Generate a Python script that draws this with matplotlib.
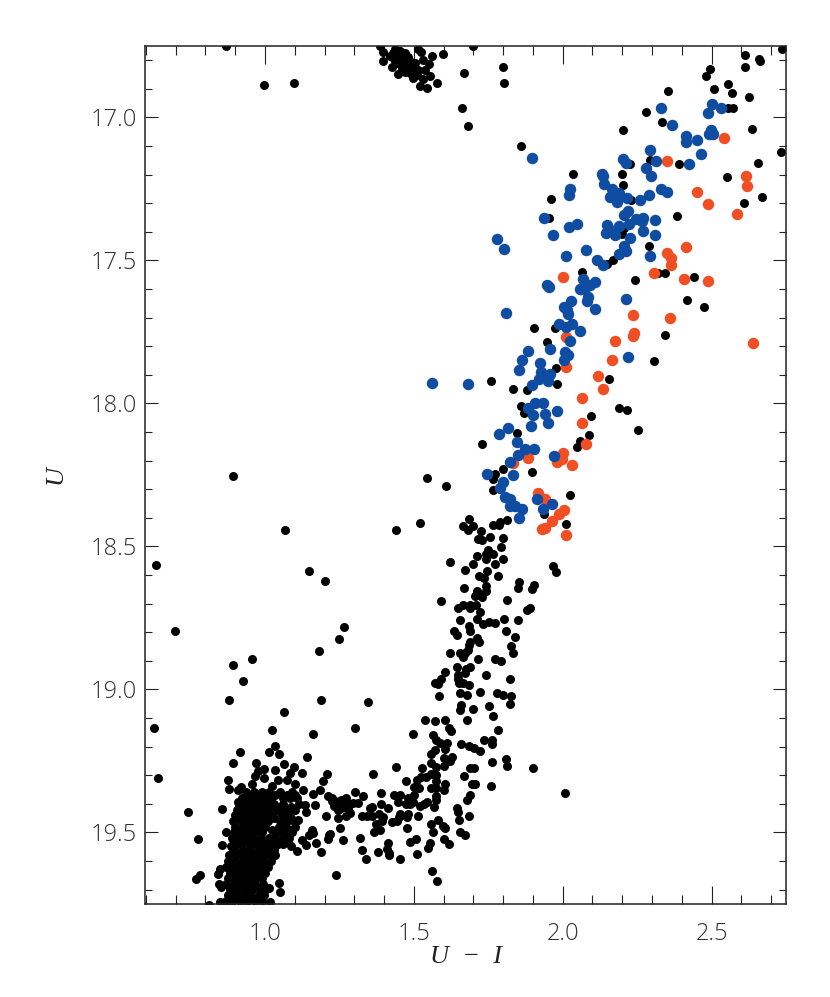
import matplotlib
matplotlib.use('Agg')
import matplotlib.pyplot as plt
from matplotlib.ticker import MultipleLocator, FormatStrFormatter

plt.rcParams['font.family'] = ['Open Sans', 'DejaVu Sans']

# (U-I, U)
blue_stars = [
    (2.330,16.966),(2.367,17.025),(2.500,16.954),(2.532,16.967),(2.487,16.986),(2.497,17.044),
    (2.492,17.059),(2.504,17.057),(2.414,17.063),(2.415,17.086),(2.450,17.077),(2.463,17.126),
    (2.293,17.113),(2.313,17.152),(2.202,17.144),(2.211,17.158),(2.424,17.164),(2.279,17.176),
    (2.295,17.205),(1.898,17.141),(2.132,17.197),(2.134,17.205),(2.140,17.234),(2.167,17.249),
    (2.024,17.251),(2.020,17.271),(2.330,17.251),(2.349,17.261),(2.289,17.272),(2.158,17.277),
    (2.190,17.265),(2.181,17.296),(2.215,17.282),(2.258,17.288),(2.218,17.327),(2.206,17.341),
    (1.938,17.351),(2.245,17.356),(2.271,17.351),(2.267,17.362),(2.309,17.360),(2.223,17.372),
    (2.150,17.376),(2.190,17.380),(2.048,17.372),(2.022,17.384),(1.969,17.411),(2.144,17.405),
    (2.164,17.397),(2.177,17.410),(2.271,17.397),(2.309,17.410),(2.226,17.423),(1.780,17.426),
    (1.802,17.459),(2.207,17.450),(2.211,17.466),(2.189,17.478),(2.079,17.462),(2.011,17.486),
    (2.294,17.486),(2.115,17.499),(2.136,17.515),(2.068,17.566),(2.108,17.575),(2.092,17.587),
    (2.076,17.595),(2.060,17.599),(1.946,17.587),(1.954,17.592),
    (1.811,17.685),(2.211,17.636),(2.029,17.642),(2.006,17.664),(2.014,17.673),(2.018,17.688),
    (2.110,17.670),(2.081,17.642),(2.085,17.627),(2.058,17.601),(1.988,17.723),(2.030,17.721),
    (2.011,17.733),(2.058,17.745),(2.026,17.782),(1.958,17.808),(1.883,17.818),(2.007,17.819),
    (2.019,17.831),(1.863,17.848),(2.005,17.849),(2.220,17.839),(1.923,17.857),(1.852,17.882),
    (1.926,17.889),(1.958,17.898),(1.919,17.913),(1.941,17.904),(1.949,17.921),(1.682,17.931),
    (1.561,17.927),(1.898,17.935),(1.907,18.000),(1.935,18.000),(1.885,18.014),(1.980,18.026),
    (1.899,18.040),(1.942,18.035),(1.952,18.068),(1.893,18.079),(1.816,18.086),(1.786,18.108),
    (1.848,18.135),(1.872,18.160),(1.903,18.159),(1.849,18.180),(1.971,18.185),(1.824,18.205),
    (1.832,18.250),(1.747,18.247),(1.799,18.275),(1.788,18.294),(1.807,18.326),(1.823,18.335),
    (1.823,18.359),(1.841,18.359),(1.862,18.370),(1.853,18.402),(1.915,18.335),(1.963,18.350),
    (1.935,18.368),
]

red_stars = [
    (2.543,17.070),(2.350,17.152),(2.614,17.206),(2.618,17.240),(2.451,17.260),(2.488,17.303),
    (2.585,17.339),(2.265,17.362),(2.415,17.452),(2.350,17.473),(2.363,17.490),(2.365,17.514),
    (2.305,17.544),(2.001,17.556),(2.407,17.566),(2.488,17.570),
    (2.236,17.690),(2.361,17.702),(2.240,17.752),(2.237,17.764),(2.174,17.783),(2.012,17.769),
    (2.638,17.789),(2.166,17.847),(2.010,17.871),(2.117,17.903),(2.137,17.948),(2.066,17.980),
    (2.065,18.067),(2.077,18.141),(2.000,18.174),(1.998,18.195),(1.982,18.206),(1.883,18.192),
    (2.030,18.216),(1.833,18.209),(1.918,18.312),(1.942,18.335),(2.006,18.373),(1.989,18.387),
    (1.963,18.410),(1.939,18.435),(1.931,18.439),(2.012,18.461),
]

# upper giant branch
black_upper = [
    (2.738,16.760),(2.612,16.781),(2.658,16.797),(2.664,16.804),(2.611,16.825),(2.494,16.832),
    (2.482,16.855),(2.555,16.883),(2.569,16.915),(2.509,16.902),(2.352,16.906),(2.625,16.929),
    (1.799,16.825),(1.804,16.879),(2.279,16.981),(2.556,16.968),(2.571,16.968),(2.332,17.015),
    (2.203,17.044),(2.636,17.039),(1.860,17.101),(2.733,17.120),(2.294,17.148),(2.226,17.164),
    (2.389,17.162),(2.655,17.159),(2.033,17.197),(2.198,17.197),(2.551,17.208),(2.204,17.236),
    (2.669,17.278),(1.959,17.285),(2.610,17.299),(2.229,17.290),(2.385,17.345),(1.954,17.351),
    (2.198,17.406),(2.207,17.386),(2.289,17.451),(2.170,17.499),(2.148,17.511),(2.066,17.540),
    (2.321,17.544),(2.344,17.544),(2.441,17.559),(2.243,17.568),
    (2.418,17.637),(2.473,17.663),(1.903,17.736),(1.973,17.736),(2.345,17.761),(1.946,17.786),
    (2.306,17.853),(1.979,17.876),(1.758,17.921),(1.832,17.949),(1.881,17.954),(1.980,17.933),
    (2.155,17.914),(2.188,18.014),(2.217,18.023),(1.860,18.007),(1.870,18.032),(2.095,18.044),
    (2.253,18.094),(1.847,18.102),(2.087,18.110),(1.728,18.142),(2.059,18.131),(2.049,18.152),
    (1.896,18.241),(1.799,18.228),(1.774,18.248),(1.767,18.265),(1.608,18.290),(1.765,18.301),
    (2.025,18.319),(1.937,18.385),(2.010,18.423),(1.813,18.409),(1.791,18.413),(1.787,18.425),
    (1.767,18.425),(1.684,18.403),(1.664,18.428),(1.700,18.430),(1.683,18.442),(1.726,18.445),
    (1.717,18.475),(1.730,18.477),(1.755,18.468),(1.799,18.469),(1.793,18.503),(1.750,18.512),
]

# lower giant branch
black_middle = [
    (1.521,18.418),(1.765,18.526),(1.741,18.526),(1.742,18.542),(1.712,18.533),(1.800,18.543),
    (1.772,18.560),(1.699,18.560),(1.622,18.554),(1.671,18.583),(1.745,18.585),(1.718,18.604),
    (1.736,18.610),(1.784,18.602),(1.967,18.567),(1.976,18.589),(1.854,18.623),(1.849,18.645),
    (1.904,18.634),(1.898,18.648),(1.744,18.637),(1.670,18.645),(1.742,18.655),(1.712,18.656),
    (1.705,18.674),(1.730,18.676),(1.722,18.668),(1.590,18.689),(1.812,18.687),(1.649,18.716),
    (1.666,18.704),(1.688,18.705),(1.708,18.703),(1.690,18.716),(1.890,18.714),(1.879,18.721),
    (1.722,18.730),(1.713,18.752),(1.656,18.756),(1.804,18.753),(1.851,18.758),(1.753,18.763),
    (1.773,18.766),(1.733,18.772),(1.684,18.779),(1.687,18.796),(1.634,18.796),(1.644,18.809),
    (1.811,18.796),(1.839,18.815),(1.712,18.819),(1.720,18.834),(1.690,18.834),(1.686,18.843),
    (1.826,18.849),(1.832,18.871),(1.683,18.863),(1.671,18.874),(1.656,18.871),(1.620,18.873),
    (1.664,18.886),(1.715,18.893),(1.771,18.892),(1.792,18.902),(1.644,18.921),(1.688,18.921),
    (1.674,18.928),(1.671,18.942),(1.603,18.940),(1.648,18.948),(1.744,18.950),(1.649,18.963),
    (1.592,18.964),(1.823,18.964),(1.571,18.979),(1.582,18.982),(1.650,18.977),(1.666,18.979),
    (1.686,18.984),(1.586,19.021),(1.656,19.011),(1.677,19.019),(1.722,19.010),(1.779,19.013),
    (1.800,19.018),(1.828,19.024),
]

# subgiant branch
black_subgiant = [
    (1.345,19.043),(1.301,19.136),(1.658,19.055),(1.654,19.072),(1.700,19.068),(1.752,19.056),
    (1.824,19.052),(1.767,19.092),(1.536,19.107),(1.572,19.111),(1.603,19.107),(1.677,19.107),
    (1.619,19.134),(1.626,19.145),(1.782,19.142),(1.498,19.156),(1.566,19.159),(1.576,19.175),
    (1.588,19.186),(1.610,19.186),(1.658,19.189),(1.685,19.198),(1.703,19.203),(1.721,19.214),
    (1.734,19.178),(1.762,19.178),(1.763,19.190),(1.604,19.207),(1.572,19.213),(1.557,19.224),
    (1.601,19.239),(1.627,19.237),(1.623,19.251),(1.557,19.256),(1.761,19.254),(1.809,19.244),
    (1.812,19.266),(1.899,19.276),(1.601,19.267),(1.576,19.272),(1.529,19.275),(1.440,19.272),
    (1.687,19.273),(1.702,19.273),(1.364,19.294),(1.667,19.304),(1.576,19.298),(1.556,19.297),
    (1.542,19.305),(1.523,19.305),(1.511,19.317),(1.574,19.321),(1.473,19.319),(1.696,19.330),
    (1.707,19.330),(1.758,19.336),(1.604,19.331),(1.601,19.350),(1.500,19.340),(1.517,19.344),
    (1.557,19.343),(1.576,19.345),(1.302,19.358),(1.330,19.371),(1.390,19.361),(1.434,19.368),
    (1.453,19.369),(1.500,19.369),(1.481,19.379),(1.446,19.394),(1.574,19.373),(1.688,19.368),
    (1.679,19.385),(1.576,19.388),(1.543,19.393),(1.534,19.402),(1.520,19.408),(1.498,19.393),
    (1.487,19.399),(1.473,19.399),(1.389,19.401),(1.361,19.410),(1.352,19.416),(1.412,19.416),
    (1.568,19.410),(1.644,19.416),(1.649,19.428),(1.685,19.442),(1.651,19.455),(1.513,19.442),
    (1.481,19.437),(1.455,19.437),(1.450,19.446),(1.476,19.445),(1.397,19.445),(1.384,19.437),
    (1.361,19.441),(1.343,19.442),(1.325,19.444),(1.392,19.460),(1.373,19.469),(1.427,19.462),
    (1.442,19.460),(1.581,19.457),(1.558,19.472),(1.599,19.478),(1.604,19.484),(1.477,19.484),
    (1.386,19.492),(1.365,19.499),(1.563,19.500),(1.655,19.500),(1.672,19.510),(1.319,19.519),
    (1.601,19.524),(1.619,19.540),(1.506,19.524),(1.488,19.534),(1.414,19.536),(1.555,19.537),
    (1.546,19.555),(1.411,19.559),(1.415,19.571),(1.416,19.580),(1.380,19.569),(1.325,19.562),
    (1.338,19.591),(1.455,19.593),(1.509,19.575),(1.562,19.635),(1.577,19.671),(1.237,19.647),
    (1.261,19.527),(1.252,19.486),(1.246,19.449),(1.272,19.444),(1.285,19.431),(1.218,19.505),
    (1.224,19.379),(1.235,19.390),(1.231,19.408),(1.246,19.420),(1.257,19.385),(1.272,19.381),
    (1.268,19.402),(1.285,19.402),(1.296,19.396),(1.313,19.396),(1.280,19.417),(1.257,19.414),
    (2.008,19.363),
]

# edge of the turnoff clump
black_clump = [
    (0.878,19.035),(0.626,19.133),(0.642,19.310),(0.740,19.427),(0.776,19.521),(0.782,19.648),
    (0.767,19.664),(1.063,19.080),(1.025,19.140),(1.161,19.154),(1.188,19.038),(1.035,19.199),
    (1.012,19.217),(1.047,19.226),(0.917,19.217),(0.892,19.256),(0.970,19.256),(1.065,19.259),
    (1.142,19.235),(0.876,19.316),(0.878,19.347),(0.910,19.350),(0.918,19.340),(0.908,19.394),
    (0.857,19.417),(0.870,19.500),(0.854,19.544),(0.885,19.547),(0.849,19.627),(0.841,19.645),
    (0.845,19.679),(0.852,19.691),(1.048,19.676),(1.050,19.707),(1.014,19.693),(1.017,19.742),
    (0.812,19.752),(0.849,19.742),(1.205,19.441),(1.187,19.568),(1.109,19.564),(1.214,19.507),
    (1.210,19.524),(1.170,19.536),(1.137,19.542),(1.125,19.527),(1.087,19.548),(1.157,19.490),
    (1.162,19.503),(1.148,19.509),(1.112,19.457),(1.137,19.428),(1.134,19.404),(1.167,19.404),
    (1.185,19.350),(1.207,19.297),(1.196,19.321),(1.123,19.291),(1.098,19.272),(1.084,19.291),
    (0.997,19.277),(1.034,19.283),(0.977,19.286),(0.997,19.309),(0.966,19.303),(0.955,19.332),
    (1.045,19.315),(1.073,19.315),(1.101,19.330),(1.022,19.338),(1.129,19.350),(1.162,19.367),
    (1.213,19.373),(1.235,19.402),(1.224,19.390),
]

# top clump and the scattered ones
black_top = [
    (1.386,16.750),(1.395,16.771),(1.397,16.802),(1.425,16.824),(1.448,16.849),(1.431,16.774),
    (1.448,16.785),(1.465,16.797),(1.476,16.814),(1.493,16.826),(1.498,16.861),(1.487,16.844),
    (1.459,16.832),(1.442,16.809),(1.504,16.809),(1.453,16.768),(1.437,16.760),(1.524,16.771),
    (1.515,16.760),(1.560,16.785),(1.532,16.799),(1.551,16.814),(1.537,16.834),(1.554,16.855),
    (1.532,16.865),(1.521,16.890),(1.545,16.897),(1.579,16.880),(1.599,16.779),(1.668,16.845),
    (1.661,16.967),(1.682,17.030),(1.700,16.750),(1.470,16.840),(1.482,16.790),(1.515,16.835),
    (1.420,16.785),(1.435,16.795),(1.455,16.812),(1.470,16.775),(1.490,16.805),(1.510,16.850),
    (0.869,16.750),(0.997,16.888),(1.097,16.878),
]

black_scatter = [
    (0.634,18.563),(0.698,18.797),(0.893,18.255),(1.067,18.444),(1.148,18.584),(1.202,18.622),
    (1.265,18.783),(1.249,18.825),(1.181,18.864),(0.893,18.913),(0.956,18.895),(0.926,18.969),
    (1.440,18.444),(1.544,18.259),
]

# inside the clump the stars overlap, so these are only rough rows
clump_rows_u = [19.36, 19.38, 19.40, 19.42, 19.44, 19.46, 19.48, 19.50, 19.52, 19.54,
                19.56, 19.58, 19.60, 19.62, 19.64, 19.66, 19.68, 19.70, 19.72, 19.74,
                19.37, 19.41, 19.45, 19.49, 19.53, 19.57, 19.61, 19.65, 19.69, 19.73]
clump_rows_color = [
    [.935, .962, .991, 1.014, 1.052, 1.09],
    [.924, .948, .972, .999, 1.02, 1.06, 1.083, 1.108],
    [.916, .941, .96, .985, 1.007, 1.03, 1.062, 1.115],
    [.905, .93, .952, .978, 1.003, 1.041, 1.07, 1.1],
    [.899, .921, .944, .97, .995, 1.02, 1.056, 1.08],
    [.893, .918, .94, .963, .989, 1.011, 1.052, 1.074, 1.096],
    [.9, .925, .948, .975, 1.0, 1.048, 1.07, 1.1],
    [.895, .92, .943, .966, .99, 1.04, 1.065, 1.09],
    [.888, .912, .936, .96, .985, 1.012, 1.035, 1.06, 1.08],
    [.895, .92, .945, .97, .995, 1.02, 1.045, 1.062],
    [.9, .925, .95, .978, 1.005, 1.03],
    [.878, .905, .93, .955, .98, 1.0, 1.027, 1.034],
    [.875, .9, .925, .945, .972, .995, 1.02],
    [.868, .892, .918, .94, .965, .985, 1.01],
    [.882, .905, .93, .955, .975, 1.0],
    [.875, .9, .925, .95, .97, .99],
    [.87, .895, .915, .94, .965, .992],
    [.882, .905, .935, .958, .985, 1.0],
    [.875, .9, .925, .95, .98, .998],
    [.87, .89, .915, .94, .965, .99],
    [.95, .978, 1.003, 1.035, 1.075, 1.1],
    [.912, .935, .965, .99, 1.018, 1.052, 1.088],
    [.905, .93, .955, .98, 1.03, 1.065, 1.088],
    [.91, .935, .96, .988, 1.025, 1.058, 1.082],
    [.9, .928, .952, .978, 1.002, 1.028, 1.052, 1.072],
    [.89, .915, .942, .968, .992, 1.015],
    [.885, .912, .935, .958, .982, 1.008],
    [.892, .918, .942, .963, .985],
    [.882, .905, .928, .952, .978],
    [.885, .91, .935, .958, .985],
]

x_ticks = [1.0, 1.5, 2.0, 2.5]
y_ticks = [17.0, 17.5, 18.0, 18.5, 19.0, 19.5]

black_stars = black_upper + black_middle + black_subgiant + black_clump + black_top + black_scatter
for u, row in zip(clump_rows_u, clump_rows_color):
    black_stars += [(c, u) for c in row]

fig = plt.figure(figsize=(8.30, 9.97), dpi=100)
ax = fig.add_axes([145/830, 1 - 904/997, (786-145)/830, (904-46)/997])

ax.scatter(*zip(*black_stars), s=42, c='black', linewidths=0, zorder=2)
ax.scatter(*zip(*red_stars), s=68, c='#f04e23', linewidths=0, zorder=3)
ax.scatter(*zip(*blue_stars), s=68, c='#0f4da2', linewidths=0, zorder=4)

ax.set_xlim(0.597, 2.75)
ax.set_ylim(19.75, 16.75)

ax.set_xticks(x_ticks)
ax.set_yticks(y_ticks)
ax.xaxis.set_minor_locator(MultipleLocator(0.1))
ax.yaxis.set_minor_locator(MultipleLocator(0.1))
ax.yaxis.set_major_formatter(FormatStrFormatter('%.1f'))
ax.xaxis.set_major_formatter(FormatStrFormatter('%.1f'))

ax.tick_params(axis='x', which='major', direction='in', top=True, length=13, width=0.8, pad=13,
               labelsize=17, labelcolor='#333333', color='#222222')
ax.tick_params(axis='x', which='minor', direction='in', top=True, length=6.5, width=0.8, color='#222222')
ax.tick_params(axis='y', which='major', direction='in', right=True, length=9.5, width=0.8, pad=6,
               labelsize=17, labelcolor='#333333', color='#222222')
ax.tick_params(axis='y', which='minor', direction='in', right=True, length=5, width=0.8, color='#222222')
for lab in ax.get_xticklabels() + ax.get_yticklabels():
    lab.set_fontweight('light')

for s in ax.spines.values():
    s.set_linewidth(1.1)
    s.set_color('#222222')

ax.set_xlabel('U  \u2212  I', family='Liberation Serif', style='italic', fontsize=19, labelpad=0, color='#222222')
ax.set_ylabel('U', family='Liberation Serif', style='italic', fontsize=19, labelpad=17, color='#222222')

fig.savefig('out.png', dpi=100)
